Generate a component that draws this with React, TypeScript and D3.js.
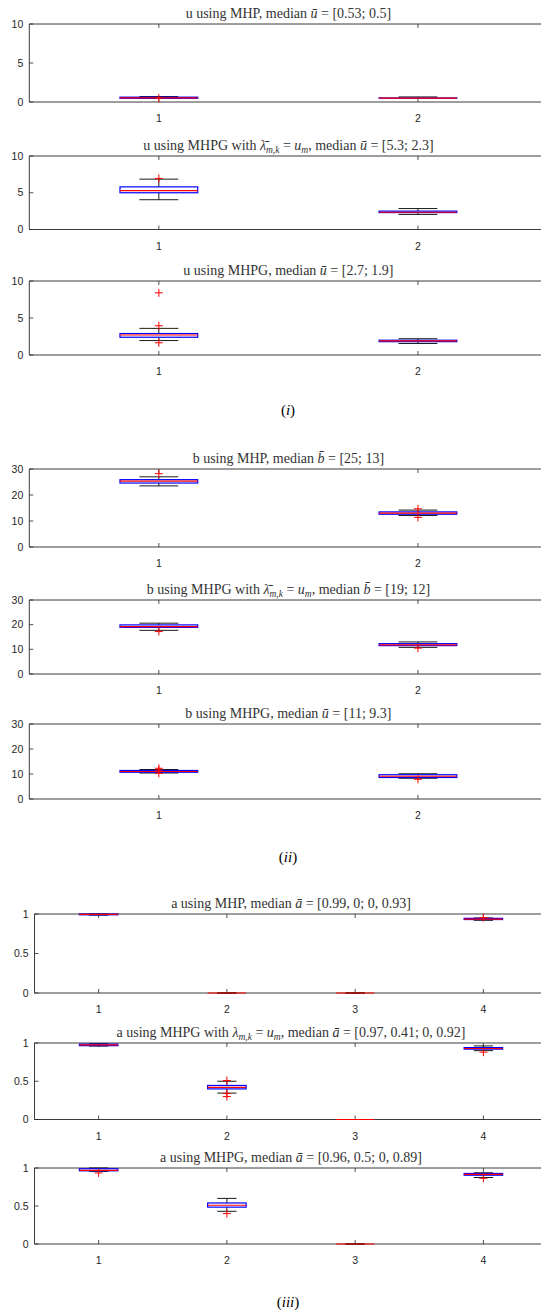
import React from "react";
import * as d3 from "d3";

// categories and y ticks
const uCats = [1, 2];
const aCats = [1, 2, 3, 4];
const uTicks = [0, 5, 10];
const bTicks = [0, 10, 20, 30];
const aTicks = [0, 0.5, 1];

// box stats per category: [lower whisker, q1, median, q3, upper whisker]
const uMhpStats = [[0.45, 0.47, 0.53, 0.62, 0.7], [0.45, 0.48, 0.5, 0.52, 0.65]];
const uMhpOut = [[0.5], []];
const uMhpgLamStats = [[4.05, 5.0, 5.3, 5.8, 6.85], [2.05, 2.3, 2.35, 2.5, 2.85]];
const uMhpgLamOut = [[6.95], []];
const uMhpgStats = [[1.95, 2.4, 2.7, 2.9, 3.6], [1.55, 1.8, 1.9, 2.0, 2.2]];
const uMhpgOut = [[8.4, 3.95, 1.65], []];

const bMhpStats = [[23.5, 24.6, 25.3, 25.9, 27.0], [12.1, 12.6, 13.0, 13.5, 14.2]];
const bMhpOut = [[28.2], [14.7, 11.4]];
const bMhpgLamStats = [[17.7, 18.9, 19.2, 19.9, 20.6], [10.8, 11.5, 11.8, 12.3, 13.0]];
const bMhpgLamOut = [[17.2], [10.5]];
const bMhpgStats = [[10.4, 10.7, 11.0, 11.4, 11.8], [8.3, 8.6, 9.1, 9.7, 10.1]];
const bMhpgOut = [[12.3, 11.6, 10.3], [7.9]];

const aMhpStats = [[0.985, 0.99, 0.995, 1.0, 1.0], [0, 0, 0, 0, 0], [0, 0, 0, 0, 0], [0.92, 0.93, 0.935, 0.945, 0.95]];
const aMhpOut = [[], [], [], [0.955]];
const aMhpgLamStats = [[0.96, 0.965, 0.975, 0.985, 0.99], [0.345, 0.4, 0.42, 0.445, 0.5], [0, 0, 0, 0, 0], [0.9, 0.92, 0.928, 0.94, 0.962]];
const aMhpgLamOut = [[], [0.51, 0.34, 0.3], [], [0.88]];
const aMhpgStats = [[0.955, 0.963, 0.97, 0.99, 1.0], [0.43, 0.485, 0.51, 0.54, 0.6], [0, 0, 0, 0, 0], [0.875, 0.905, 0.915, 0.928, 0.937]];
const aMhpgOut = [[0.935], [0.4], [], [0.865]];

// title pieces: r = roman, i = italic, s = italic subscript
const uBar = "\u016B";
const aBar = "\u0101";
const bBar = "b\u0304";
const lamBar = "\u03BB\u0304";

const titles = [
  [["u using MHP, median ", "r"], [uBar, "i"], [" = [0.53; 0.5]", "r"]],
  [["u using MHPG with ", "r"], [lamBar, "i"], ["m,k", "s"], [" = ", "r"], ["u", "i"], ["m", "s"], [", median ", "r"], [uBar, "i"], [" = [5.3; 2.3]", "r"]],
  [["u using MHPG, median ", "r"], [uBar, "i"], [" = [2.7; 1.9]", "r"]],
  [["b using MHP, median ", "r"], [bBar, "i"], [" = [25; 13]", "r"]],
  [["b using MHPG with ", "r"], [lamBar, "i"], ["m,k", "s"], [" = ", "r"], ["u", "i"], ["m", "s"], [", median ", "r"], [bBar, "i"], [" = [19; 12]", "r"]],
  [["b using MHPG, median ", "r"], [uBar, "i"], [" = [11; 9.3]", "r"]],
  [["a using MHP, median ", "r"], [aBar, "i"], [" = [0.99, 0; 0, 0.93]", "r"]],
  [["a using MHPG with ", "r"], ["\u03BB", "i"], ["m,k", "s"], [" = ", "r"], ["u", "i"], ["m", "s"], [", median ", "r"], [aBar, "i"], [" = [0.97, 0.41; 0, 0.92]", "r"]],
  [["a using MHPG, median ", "r"], [aBar, "i"], [" = [0.96, 0.5; 0, 0.89]", "r"]],
];

const RIGHT = 547.5;
const serif = "'Liberation Serif', 'DejaVu Serif', serif";
const sans = "'Liberation Sans', Arial, sans-serif";
const axisColor = "#262626";

const panels = [
  { top: 24, bottom: 102, left: 29.3, cats: uCats, ticks: uTicks, yMax: 10, stats: uMhpStats, out: uMhpOut },
  { top: 156, bottom: 229.5, left: 29.3, cats: uCats, ticks: uTicks, yMax: 10, stats: uMhpgLamStats, out: uMhpgLamOut },
  { top: 281, bottom: 355, left: 29.3, cats: uCats, ticks: uTicks, yMax: 10, stats: uMhpgStats, out: uMhpgOut },
  { top: 469, bottom: 547, left: 29.3, cats: uCats, ticks: bTicks, yMax: 30, stats: bMhpStats, out: bMhpOut },
  { top: 600, bottom: 674, left: 29.3, cats: uCats, ticks: bTicks, yMax: 30, stats: bMhpgLamStats, out: bMhpgLamOut },
  { top: 724, bottom: 799, left: 29.3, cats: uCats, ticks: bTicks, yMax: 30, stats: bMhpgStats, out: bMhpgOut },
  { top: 914, bottom: 993, left: 34.5, cats: aCats, ticks: aTicks, yMax: 1, stats: aMhpStats, out: aMhpOut },
  { top: 1043, bottom: 1119.5, left: 34.5, cats: aCats, ticks: aTicks, yMax: 1, stats: aMhpgLamStats, out: aMhpgLamOut },
  { top: 1168, bottom: 1244, left: 34.5, cats: aCats, ticks: aTicks, yMax: 1, stats: aMhpgStats, out: aMhpgOut },
];

const captions = [
  { y: 410, label: "i" },
  { y: 857, label: "ii" },
  { y: 1302, label: "iii" },
];

function Title({ parts, x, y }) {
  let shifted = false;
  const spans = parts.map(([t, s], i) => {
    let dy = 0;
    if (s === "s" && !shifted) { dy = 3; shifted = true; }
    else if (s !== "s" && shifted) { dy = -3; shifted = false; }
    return (
      <tspan key={i} dy={dy} fontStyle={s === "r" ? "normal" : "italic"} fontSize={s === "s" ? 9.5 : undefined}>
        {t}
      </tspan>
    );
  });
  return (
    <text x={x} y={y} textAnchor="middle" fontFamily={serif} fontSize={14} fill="#333">
      {spans}
    </text>
  );
}

function Panel({ p, title }) {
  const x = d3.scaleLinear().domain([0.5, p.cats.length + 0.5]).range([p.left, RIGHT]);
  const y = d3.scaleLinear().domain([0, p.yMax]).range([p.bottom, p.top]);
  const unit = x(1) - x(0);
  const bw = unit * 0.15;
  const cw = unit * 0.075;
  const fmt = (v) => (p.yMax === 1 ? d3.format("")(v) : String(v));
  return (
    <g>
      <Title parts={title} x={(p.left + RIGHT) / 2} y={p.top - 6} />
      {/* axes box */}
      <line x1={p.left} x2={RIGHT} y1={p.top} y2={p.top} stroke={axisColor} strokeWidth={0.9} />
      <line x1={p.left} x2={RIGHT} y1={p.bottom} y2={p.bottom} stroke={axisColor} strokeWidth={0.9} />
      <line x1={p.left} x2={p.left} y1={p.top} y2={p.bottom} stroke={axisColor} strokeWidth={0.9} />
      {p.ticks.map((t) => (
        <g key={"y" + t}>
          <line x1={p.left} x2={p.left + 4} y1={y(t)} y2={y(t)} stroke={axisColor} strokeWidth={0.8} />
          <text x={p.left - 6} y={y(t)} dy="0.35em" textAnchor="end" fontFamily={sans} fontSize={10.5} fill={axisColor}>
            {fmt(t)}
          </text>
        </g>
      ))}
      {p.cats.map((c) => (
        <g key={"x" + c}>
          <line x1={x(c)} x2={x(c)} y1={p.bottom} y2={p.bottom - 4} stroke={axisColor} strokeWidth={0.8} />
          <line x1={x(c)} x2={x(c)} y1={p.top} y2={p.top + 4} stroke={axisColor} strokeWidth={0.8} />
          <text x={x(c)} y={p.bottom + 20} textAnchor="middle" fontFamily={sans} fontSize={10.5} fill={axisColor}>
            {c}
          </text>
        </g>
      ))}
      {p.stats.map((s, i) => {
        const cx = x(p.cats[i]);
        const [lo, q1, med, q3, hi] = s;
        return (
          <g key={"b" + i}>
            <line x1={cx} x2={cx} y1={y(q3)} y2={y(hi)} stroke="#000" strokeWidth={0.9} />
            <line x1={cx} x2={cx} y1={y(q1)} y2={y(lo)} stroke="#000" strokeWidth={0.9} />
            <line x1={cx - cw} x2={cx + cw} y1={y(hi)} y2={y(hi)} stroke="#000" strokeWidth={0.9} />
            <line x1={cx - cw} x2={cx + cw} y1={y(lo)} y2={y(lo)} stroke="#000" strokeWidth={0.9} />
            <rect x={cx - bw} y={y(q3)} width={bw * 2} height={Math.max(0, y(q1) - y(q3))} fill="none" stroke="#0000ff" strokeWidth={1.2} />
            <line x1={cx - bw} x2={cx + bw} y1={y(med)} y2={y(med)} stroke="#ff0000" strokeWidth={1.2} />
            {p.out[i].map((o, k) => (
              <g key={k}>
                <line x1={cx - 4} x2={cx + 4} y1={y(o)} y2={y(o)} stroke="#ff0000" strokeWidth={1} />
                <line x1={cx} x2={cx} y1={y(o) - 4} y2={y(o) + 4} stroke="#ff0000" strokeWidth={1} />
              </g>
            ))}
          </g>
        );
      })}
    </g>
  );
}

export default function App() {
  return (
    <svg width={541} height={1315} style={{ position: "absolute", left: 0, top: 0, background: "#fff" }}>
      <rect width={541} height={1315} fill="#fff" />
      {panels.map((p, i) => (
        <Panel key={i} p={p} title={titles[i]} />
      ))}
      {captions.map((c) => (
        <text key={c.label} x={288} y={c.y + 5} textAnchor="middle" fontFamily={serif} fontSize={15} fill="#000">
          (<tspan fontStyle="italic">{c.label}</tspan>)
        </text>
      ))}
    </svg>
  );
}
